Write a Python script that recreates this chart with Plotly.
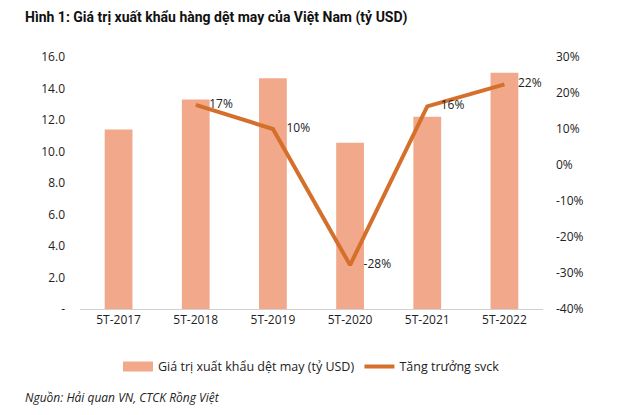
import plotly.graph_objects as go

categories = ["5T-2017", "5T-2018", "5T-2019", "5T-2020", "5T-2021", "5T-2022"]
export_values = [11.4, 13.3, 14.65, 10.55, 12.2, 15.0]
growth_cats = ["5T-2018", "5T-2019", "5T-2020", "5T-2021", "5T-2022"]
growth_values = [16.7, 10.0, -27.8, 16.3, 22.4]
growth_labels = ["17%", "10%", "-28%", "16%", "22%"]
left_ticks = [0, 2, 4, 6, 8, 10, 12, 14, 16]
left_tick_text = ["-", "2.0", "4.0", "6.0", "8.0", "10.0", "12.0", "14.0", "16.0"]
right_ticks = [-40, -30, -20, -10, 0, 10, 20, 30]
right_tick_text = ["-40%", "-30%", "-20%", "-10%", "0%", "10%", "20%", "30%"]

FONT = "Open Sans, Noto Sans, sans-serif"
BAR_COLOR = "#F2A98B"
LINE_COLOR = "#D4702C"

fig = go.Figure()
fig.add_trace(go.Bar(
    x=categories, y=export_values, name="Giá trị xuất khẩu dệt may (tỷ USD)",
    marker=dict(color=BAR_COLOR, line=dict(width=0)), yaxis="y", showlegend=False,
))
# legend-only entry for the bars, drawn as a wide swatch like the reference
fig.add_trace(go.Scatter(
    x=categories[:2], y=[-5, -5], name="Giá trị xuất khẩu dệt may (tỷ USD)", mode="lines",
    line=dict(color=BAR_COLOR, width=10), yaxis="y", hoverinfo="skip",
))
fig.add_trace(go.Scatter(
    x=growth_cats, y=growth_values, name="Tăng trưởng svck", yaxis="y2",
    mode="lines+markers+text", line=dict(color=LINE_COLOR, width=4),
    marker=dict(size=20, color="rgba(0,0,0,0)", line=dict(width=0)),
    text=growth_labels, textposition="middle right",
    textfont=dict(family=FONT, size=12, color="#222222"),
))

fig.update_layout(
    width=640, height=415,
    margin=dict(l=80, r=97, t=57, b=106),
    paper_bgcolor="white", plot_bgcolor="white",
    bargap=0.64,
    showlegend=True,
    legend=dict(orientation="h", x=0.5, xanchor="center", y=-0.17, yanchor="top",
                font=dict(family=FONT, size=12.5, color="#222222"),
                itemwidth=30, traceorder="normal"),
    xaxis=dict(showgrid=False, showline=True, linecolor="#D0D0D0", linewidth=1,
               ticks="", tickfont=dict(family=FONT, size=12, color="#222222")),
    yaxis=dict(range=[0, 16], tickvals=left_ticks, ticktext=left_tick_text,
               showgrid=False, zeroline=False, showline=False, ticks="",
               ticklabelstandoff=14,
               tickfont=dict(family=FONT, size=12, color="#222222")),
    yaxis2=dict(range=[-40, 30], tickvals=right_ticks, ticktext=right_tick_text,
                overlaying="y", side="right", showgrid=False, zeroline=False,
                showline=False, ticks="", ticklabelstandoff=12,
                tickfont=dict(family=FONT, size=12, color="#222222")),
    annotations=[
        dict(text="<b>Hình 1: Giá trị xuất khẩu hàng dệt may của Việt Nam (tỷ USD)</b>",
             xref="paper", yref="paper", x=-0.124, y=1.155, xanchor="left", yanchor="middle",
             showarrow=False,
             font=dict(family="Roboto, sans-serif", size=14, color="#111111")),
        dict(text="<i>Nguồn: Hải quan VN, CTCK Rồng Việt</i>",
             xref="paper", yref="paper", x=-0.124, y=-0.35, xanchor="left", yanchor="middle",
             showarrow=False, font=dict(family=FONT, size=12, color="#222222")),
    ],
)

fig.write_html("out.html")
